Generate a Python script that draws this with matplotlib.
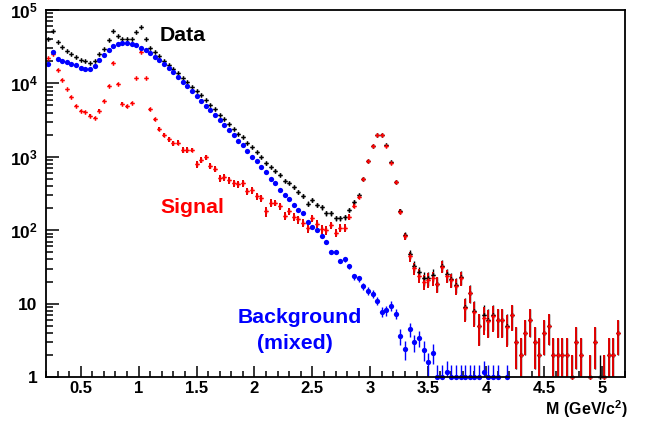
import numpy as np
import matplotlib
matplotlib.use("Agg")
import matplotlib.pyplot as plt
from matplotlib.ticker import FixedLocator, MultipleLocator, NullFormatter

# invariant mass bins, 0.2 - 5.2 GeV/c^2, 40 MeV wide
bin_lo = 0.2
bin_w = 0.04
mass = np.round(bin_lo + bin_w / 2 + bin_w * np.arange(125), 3)

nan = np.nan

# counts per bin
data = [40500, 52100, 36900, 31200, 27500, 25100, 22600, 20900, 19900, 19000,
        20100, 24800, 29600, 38500, 51200, 43700, 40200, 40200, 40200, 50000,
        58600, 40200, 30000, 26900, 23300, 20300, 17900, 15600, 13700, 11900,
        10300, 8960, 7820, 6900, 5950, 5150, 4440, 3680, 3250, 2800,
        2370, 2040, 1840, 1520, 1340, 1160, 990, 813, 733, 646,
        569, 471, 443, 382, 334, 291, 231, 256, 222, 204,
        169, 169, 146, 146, 149, 188, 240, 297, 505, 880,
        1400, 1970, 1980, 1430, 840, 460, 182, 86, 47.4, 32.8,
        26.6, 22.3, 22.3, 24.5, 18.6, 33, 25, 21.5, 18, 23,
        9, 14, 8, 5, 7, 6, 7, 6, 6, 5,
        7, 3, 2, 4, 6, 3, 2, 4, 5, 2,
        2, 2, 2, 1, 3, 2, nan, 1, 3, 1,
        1, 2, 2, 4, nan]

signal = [22100, 25000, 15300, 11200, 8260, 6620, 4880, 4170, 4040, 3640,
          3380, 4260, 5770, 9360, 19100, 9840, 5310, 4880, 5360, 11700,
          27100, 11800, 4440, 3250, 2370, 2000, 1730, 1520, 1560, 1240,
          1240, 1240, 795, 902, 981, 746, 688, 512, 528, 481,
          433, 424, 433, 342, 351, 291, 273, 181, 236, 236,
          212, 158, 181, 152, 140, 126, 108, 147, 123, 104,
          100, 116, 93, 108, 108, 152, 217, 281, 491, 865,
          1390, 1960, 1970, 1420, 830, 451, 178, 83.6, 44, 30.2,
          24, 19.9, 21.1, 22.3, 18.4, 32, 24, 20.7, 17.5, 22.3,
          8.6, 13.9, 7.7, 4.9, 6.4, 5.8, 6.7, 5.9, 5.9, 4.8,
          6.9, 3, 2, 4, 6, 3, 2, 4, 5, 2,
          2, 2, 2, 1, 3, 2, nan, 1, 3, nan,
          1, 2, 2, 4, nan]

background = [18500, 26400, 21400, 20100, 19300, 18500, 17600, 16300, 15800, 15500,
              17000, 20600, 24500, 28100, 31900, 34300, 35400, 35400, 34700, 33000,
              30800, 28400, 25900, 23000, 20800, 18300, 16100, 14100, 12300, 10600,
              9250, 7900, 6750, 5840, 4990, 4300, 3680, 3170, 2750, 2320,
              1980, 1660, 1430, 1190, 1000, 865, 716, 618, 502, 433,
              351, 303, 262, 222, 191, 169, 128, 109, 100, 84,
              68, 50, 50, 38, 40, 32.5, 23.4, 22, 17.3, 14.9,
              13.5, 11, 7.8, 8.1, 9.4, 7.3, 3.6, 2.4, 4.5, 3.0,
              3.4, 2.36, 1.59, 2.15, 1, 1, 1.18, 1, 1, 1,
              1, 1, 1, 1, 1.18, 1, 1, 1, nan, 1] + [nan] * 25

data = np.array(data, dtype=float)
signal = np.array(signal, dtype=float)
background = np.array(background, dtype=float)

# statistical errors; mixed events are scaled down, so their error is smaller
mix_norm = 0.2
data_err = np.sqrt(data)
signal_err = np.sqrt(data)
bkg_err = np.sqrt(mix_norm * background)

plt.rcParams['font.family'] = ['Liberation Sans', 'DejaVu Sans']
plt.rcParams['mathtext.fontset'] = 'custom'
plt.rcParams['mathtext.rm'] = 'Liberation Sans'
plt.rcParams['mathtext.bf'] = 'Liberation Sans:bold'

fig = plt.figure(figsize=(6.45, 4.22), dpi=100)
ax = fig.add_axes([46 / 645, 45 / 422, 579 / 645, 367 / 422])

# error bars first, markers on top
ax.errorbar(mass, data, yerr=data_err, fmt='none', ecolor='black', elinewidth=1.0, capsize=0)
ax.errorbar(mass, signal, yerr=signal_err, fmt='none', ecolor='#e00000', elinewidth=1.4, capsize=0)
ax.errorbar(mass, background, yerr=bkg_err, fmt='none', ecolor='#0000ff', elinewidth=1.0, capsize=0)

ax.plot(mass, data, ls='none', marker='P', ms=3.3, color='black', mew=0, clip_on=False)
ax.plot(mass, signal, ls='none', marker='P', ms=3.3, color='#ff0000', mew=0, clip_on=False)
ax.plot(mass, background, ls='none', marker='o', ms=3.8, color='#0000ff', mew=0, clip_on=False)

ax.set_xlim(0.2, 5.2)
ax.set_yscale('log')
ax.set_ylim(1, 1e5)

ax.xaxis.set_major_locator(MultipleLocator(0.5))
ax.xaxis.set_minor_locator(MultipleLocator(0.1))
xt = np.arange(0.5, 5.01, 0.5)
ax.set_xticks(xt)
ax.set_xticklabels(['%g' % v for v in xt], fontweight='bold', fontsize=12)

ax.yaxis.set_major_locator(FixedLocator([1, 10, 100, 1e3, 1e4, 1e5]))
ax.set_yticklabels(['1', '10', r'$\mathbf{10^{2}}$', r'$\mathbf{10^{3}}$',
                    r'$\mathbf{10^{4}}$', r'$\mathbf{10^{5}}$'],
                   fontweight='bold', fontsize=12.5)
ax.yaxis.set_minor_formatter(NullFormatter())

ax.tick_params(which='both', direction='in', top=False, right=False, width=1.1)
ax.tick_params(axis='x', which='major', length=8, pad=3)
ax.tick_params(axis='x', which='minor', length=4)
ax.tick_params(axis='y', which='major', length=9, pad=6)
ax.tick_params(axis='y', which='minor', length=5)
for s in ax.spines.values():
    s.set_linewidth(1.3)

tkw = dict(transform=ax.transAxes, fontsize=15.3, fontweight='bold', va='baseline', ha='left')
ax.text(0.197, 0.9155, 'Data', color='black', **tkw)
ax.text(0.198, 0.447, 'Signal', color='#ff0000', **tkw)
ax.text(0.3316, 0.147, 'Background', color='#0000ff', **tkw)
ax.text(0.3644, 0.0763, '(mixed)', color='#0000ff', **tkw)

fig.text(628 / 645, 7 / 422, r'$\mathbf{M\ (GeV/c^{2})}$', ha='right', va='baseline', fontsize=11.5)

fig.savefig('out.png', dpi=100)
